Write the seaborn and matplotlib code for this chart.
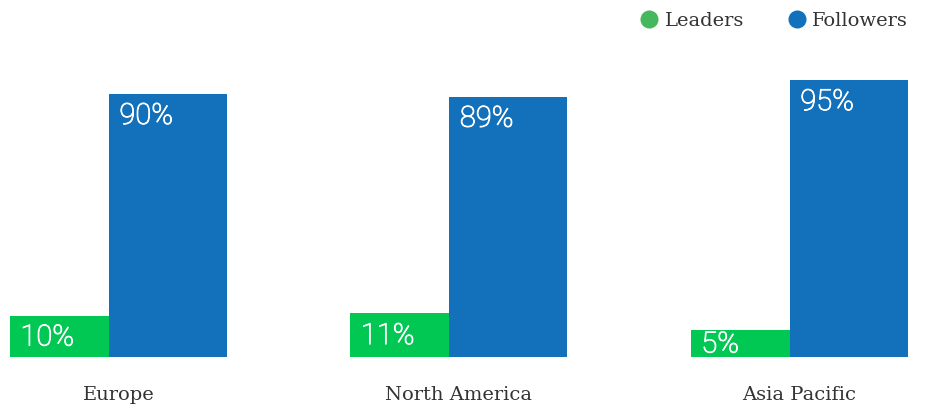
import matplotlib
matplotlib.use("Agg")
import matplotlib.pyplot as plt
import matplotlib.patheffects as pe
from matplotlib.lines import Line2D
import seaborn as sns
import pandas as pd

# Share of companies per region, in percent
regions = ["Europe", "North America", "Asia Pacific"]
groups = ["Leaders", "Followers"]
leaders = [10, 11, 5]
followers = [90, 89, 95]

bar_colors = {"Leaders": "#00c853", "Followers": "#1271ba"}
legend_colors = {"Leaders": "#45b85e", "Followers": "#1271ba"}
text_color = "#333333"

df = pd.DataFrame({
    "region": regions * 2,
    "group": ["Leaders"] * len(regions) + ["Followers"] * len(regions),
    "share": leaders + followers,
})

sns.set_theme(style="white")
plt.rcParams["font.family"] = ["DejaVu Serif"]

fig = plt.figure(figsize=(9.25, 4.09), dpi=100)
ax = fig.add_axes([0, 0.1271, 1, 0.710])

sns.barplot(
    data=df, x="region", y="share", hue="group",
    order=regions, hue_order=groups, palette=bar_colors,
    saturation=1, width=0.6373, linewidth=0, edgecolor="none",
    legend=False, ax=ax,
)

# Bars rest on a common floor slightly below zero; leader bars are narrower
FLOOR = -4.74
GROUP_W = 0.6373
LEAD_W = 0.2907
values = {"Leaders": leaders, "Followers": followers}
label_font = dict(
    fontsize=21, family="Roboto", fontweight="light", color="white",
    path_effects=[pe.withStroke(linewidth=0.7, foreground="white")],
)

for level, container in zip(groups, ax.containers):
    for i, bar in enumerate(container):
        val = values[level][i]
        if level == "Leaders":
            left, w = i - GROUP_W / 2, LEAD_W
        else:
            left, w = i - GROUP_W / 2 + LEAD_W, GROUP_W - LEAD_W
        bar.set_x(left)
        bar.set_width(w)
        bar.set_y(FLOOR)
        bar.set_height(val - FLOOR)

        if level == "Leaders":
            ax.annotate(f"{val}%", xy=(left, (val + FLOOR) / 2),
                        xytext=(7.5, 1.5), textcoords="offset points",
                        ha="left", va="center_baseline", **label_font)
        else:
            ax.annotate(f"{val}%", xy=(left, val),
                        xytext=(7.5, -5.5), textcoords="offset points",
                        ha="left", va="top", **label_font)

ax.set_xlim(-0.348, 2.369)
ax.set_ylim(FLOOR, 100)
ax.set_yticks([])
ax.set_xlabel("")
ax.set_ylabel("")
ax.tick_params(axis="x", length=0, pad=21, labelsize=14, labelcolor=text_color)
sns.despine(ax=ax, left=True, bottom=True)

handles = [
    Line2D([], [], marker="o", linestyle="none", markersize=13,
           markerfacecolor=legend_colors[g], markeredgewidth=0)
    for g in groups
]
fig.legend(handles, groups, loc="upper right", bbox_to_anchor=(0.9816, 0.970),
           ncol=2, frameon=False, fontsize=14, labelcolor=text_color,
           handlelength=1.0, handletextpad=0.3, columnspacing=2.2,
           borderpad=0, borderaxespad=0)

fig.savefig("out.png", dpi=100)
